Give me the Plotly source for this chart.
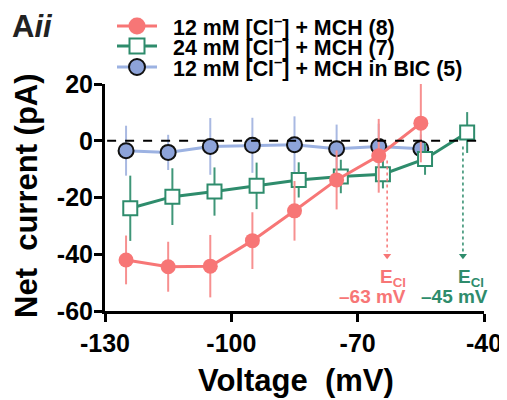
import plotly.graph_objects as go

# ---- data ----
volt_red = [-125, -115, -105, -95, -85, -75, -65, -55]
cur_red = [-42.0, -44.4, -44.2, -35.2, -24.7, -13.8, -5.3, 6.2]
sem_red = [8.6, 8.8, 11.0, 10.0, 10.5, 10.4, 13.0, 13.8]

volt_green = [-124, -114, -104, -94, -84, -74, -64, -54, -44]
cur_green = [-23.8, -19.7, -17.9, -15.9, -13.8, -12.6, -11.8, -6.4, 2.9]
sem_green = [11.5, 10.0, 8.5, 8.2, 6.2, 5.9, 5.0, 5.6, 7.2]

volt_blue = [-125, -115, -105, -95, -85, -75, -65, -55]
cur_blue = [-3.5, -4.1, -2.0, -1.6, -1.4, -2.8, -2.0, -2.8]
sem_blue = [8.8, 6.2, 10.0, 9.7, 10.0, 8.5, 8.0, 5.0]

names = ["12 mM [Cl<sup>&#8211;</sup>] + MCH (8)",
         "24 mM [Cl<sup>&#8211;</sup>] + MCH (7)",
         "12 mM [Cl<sup>&#8211;</sup>] + MCH in BIC (5)"]

ecl_red = -63
ecl_green = -45
ecl_labels = ["&#8211;63 mV", "&#8211;45 mV"]
x_ticks = [-130, -100, -70, -40]
y_ticks = [20, 0, -20, -40, -60]

RED = "#F77676"
GREEN = "#2E8C6C"
BLUE_FILL = "#8DA3D9"
BLUE_LINE = "#9CB2E2"
FONT = "Liberation Sans, Arial, sans-serif"

# page has an 8px body margin: figure coordinates = page coordinates - 8
OFF = 8
W, H = 507 - OFF, 400 - OFF
ML, MR, MT, MB = 105 - OFF, 23, 84 - OFF, 89
PW, PH = W - ML - MR, H - MT - MB


def px(xp):  # page pixel x -> paper
    return (xp - OFF - ML) / PW


def py(yp):  # page pixel y -> paper
    return (H - MB - (yp - OFF)) / PH


fig = go.Figure()

# blue (drawn first, under the others)
fig.add_trace(go.Scatter(
    x=volt_blue, y=cur_blue, name=names[2], mode="lines+markers",
    line=dict(color=BLUE_LINE, width=3),
    marker=dict(symbol="circle", size=15, color=BLUE_FILL, line=dict(color="#111111", width=2)),
    error_y=dict(type="data", array=sem_blue, color="#A9B9E2", thickness=2, width=0),
))
# green
fig.add_trace(go.Scatter(
    x=volt_green, y=cur_green, name=names[1], mode="lines+markers",
    line=dict(color=GREEN, width=3),
    marker=dict(symbol="square", size=14, color="white", line=dict(color=GREEN, width=2)),
    error_y=dict(type="data", array=sem_green, color="#3F9678", thickness=2, width=0),
))
# red
fig.add_trace(go.Scatter(
    x=volt_red, y=cur_red, name=names[0], mode="lines+markers",
    line=dict(color=RED, width=3),
    marker=dict(symbol="circle", size=15, color=RED, line=dict(color=RED, width=0)),
    error_y=dict(type="data", array=sem_red, color="#F79090", thickness=2, width=0),
))

# dotted E_Cl arrows
fig.add_trace(go.Scatter(x=[ecl_red, ecl_red], y=[-7, -39], mode="lines",
                         line=dict(color=RED, width=1.5, dash="dot"), showlegend=False, hoverinfo="skip"))
fig.add_trace(go.Scatter(x=[ecl_red], y=[-40.5], mode="markers",
                         marker=dict(symbol="triangle-down", size=7, color=RED), showlegend=False, hoverinfo="skip"))
fig.add_trace(go.Scatter(x=[ecl_green, ecl_green], y=[-2, -39], mode="lines",
                         line=dict(color=GREEN, width=1.5, dash="dot"), showlegend=False, hoverinfo="skip"))
fig.add_trace(go.Scatter(x=[ecl_green], y=[-40.5], mode="markers",
                         marker=dict(symbol="triangle-down", size=7, color=GREEN), showlegend=False, hoverinfo="skip"))

# zero dashed line
fig.add_shape(type="line", xref="x", yref="y", x0=-129.5, x1=-40, y0=0, y1=0,
              line=dict(color="black", width=2, dash="dash"))

ann_font = dict(family=FONT, size=19, weight="bold")
fig.add_annotation(x=ecl_red + 1.5, y=-48.5, text="E<sub>Cl</sub>", showarrow=False,
                   font=dict(color=RED, **ann_font))
fig.add_annotation(x=ecl_red - 3.5, y=-55.0, text=ecl_labels[0], showarrow=False,
                   font=dict(color=RED, **ann_font))
fig.add_annotation(x=ecl_green + 2.0, y=-48.5, text="E<sub>Cl</sub>", showarrow=False,
                   font=dict(color=GREEN, **ann_font))
fig.add_annotation(x=ecl_green - 1.9, y=-55.0, text=ecl_labels[1], showarrow=False,
                   font=dict(color=GREEN, **ann_font))

# panel label
fig.add_annotation(xref="paper", yref="paper", x=px(10), y=py(26), xanchor="left", yanchor="middle",
                   text="<b>A<i>ii</i></b>", showarrow=False,
                   font=dict(family=FONT, size=31, color="#222222"))

# y-axis title
fig.add_annotation(xref="paper", yref="paper", x=px(26), y=py(196), xanchor="center", yanchor="middle",
                   text="<b>Net&nbsp;&nbsp;current (pA)</b>", textangle=-90, showarrow=False,
                   font=dict(family=FONT, size=31, color="black"))
# x-axis title
fig.add_annotation(xref="paper", yref="paper", x=px(296), y=py(380), xanchor="center", yanchor="middle",
                   text="<b>Voltage&nbsp;&nbsp;(mV)</b>", showarrow=False,
                   font=dict(family=FONT, size=31, color="black"))

# custom legend (tight row spacing as in the reference)
rows_y = [26, 46, 67]
leg_specs = [
    (names[0], RED, "circle", RED, RED, 0, 17),
    (names[1], GREEN, "square", "white", GREEN, 2, 15),
    (names[2], BLUE_LINE, "circle", BLUE_FILL, "#111111", 2, 16),
]
for (label, lcol, sym, fill, edge, ew, size), ry in zip(leg_specs, rows_y):
    fig.add_shape(type="line", xref="paper", yref="paper", x0=px(117), x1=px(157), y0=py(ry), y1=py(ry),
                  line=dict(color=lcol, width=3))
    r = size / 2
    kind = "circle" if sym == "circle" else "rect"
    fig.add_shape(type=kind, xref="paper", yref="paper", x0=px(137 - r), x1=px(137 + r),
                  y0=py(ry + r), y1=py(ry - r), fillcolor=fill,
                  line=dict(color=edge, width=ew if ew else 0.1))
    fig.add_annotation(xref="paper", yref="paper", x=px(171), y=py(ry), xanchor="left", yanchor="middle",
                       text=label, showarrow=False,
                       font=dict(family=FONT, size=21.4, weight="bold", color="black"))

fig.update_layout(
    width=W, height=H,
    template="none",
    margin=dict(l=ML, r=MR, t=MT, b=MB, autoexpand=False),
    paper_bgcolor="white", plot_bgcolor="white",
    font=dict(family=FONT, color="black"),
    showlegend=False,
    xaxis=dict(range=[-130, -40], tickvals=x_ticks, ticktext=[str(v) for v in x_ticks],
               showline=True, linecolor="black", linewidth=3, ticks="outside", automargin=False,
               ticklen=8, tickwidth=3, tickcolor="black", showgrid=False, zeroline=False,
               tickfont=dict(family=FONT, size=25, weight="bold")),
    yaxis=dict(range=[-60, 20], tickvals=y_ticks, ticktext=[str(v) for v in y_ticks],
               showline=True, linecolor="black", linewidth=3, ticks="outside", automargin=False,
               ticklen=8, tickwidth=3, tickcolor="black", showgrid=False, zeroline=False,
               ticklabelstandoff=-4,
               tickfont=dict(family=FONT, size=25, weight="bold")),
)

fig.write_html("out.html")
